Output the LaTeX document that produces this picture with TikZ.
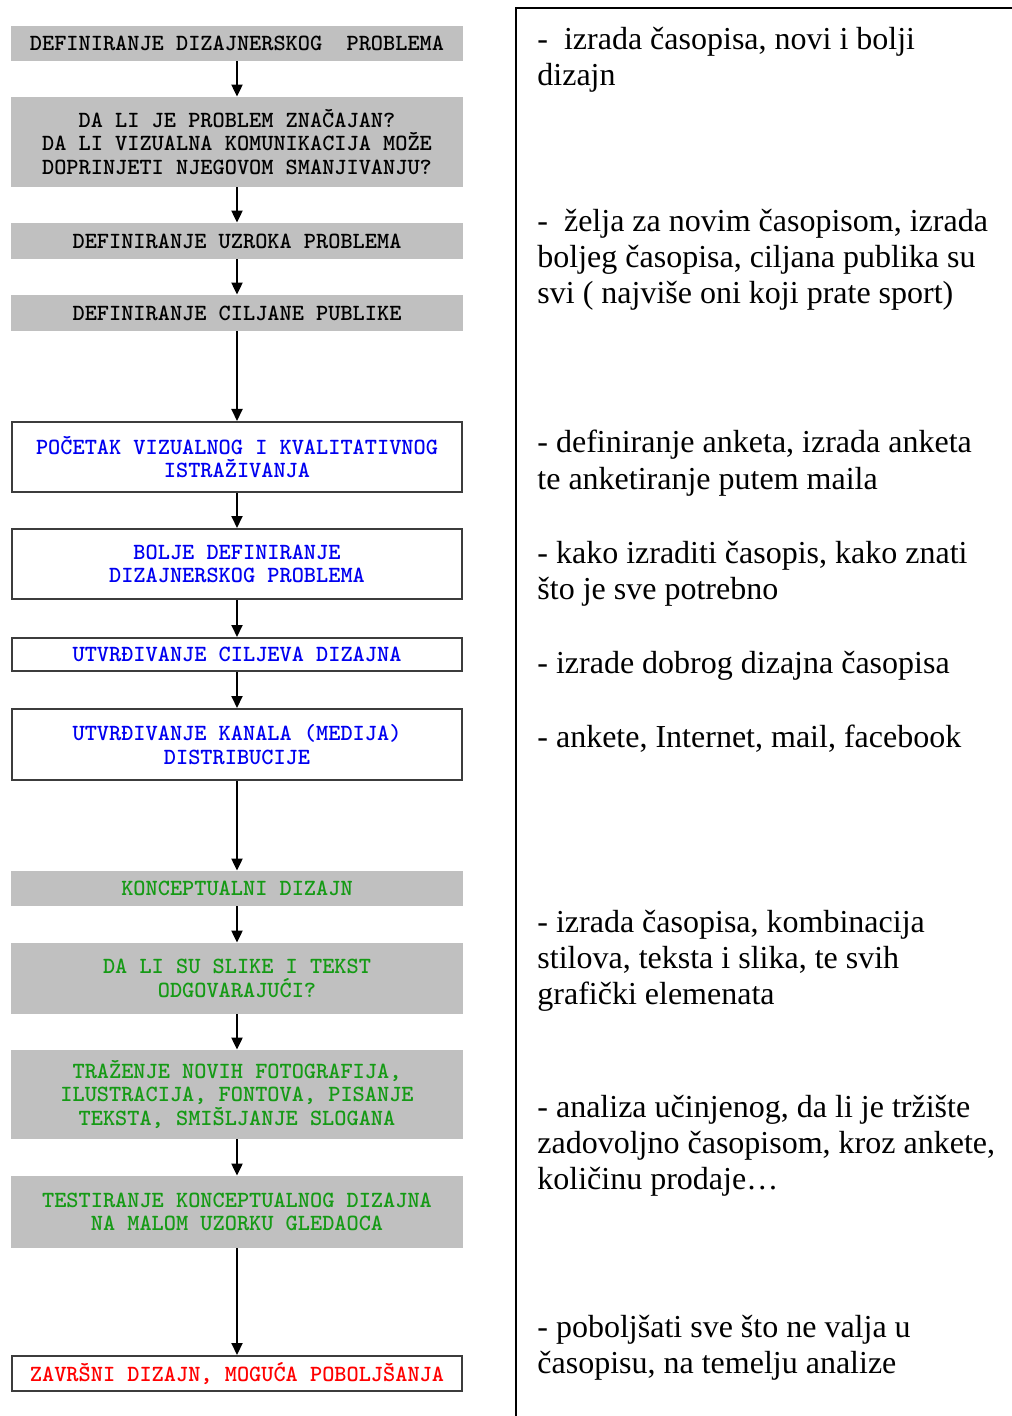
\documentclass[tikz,border=0pt]{standalone}
\usepackage{fontspec}
\setmainfont{Liberation Serif}
\usetikzlibrary{arrows.meta}
\definecolor{boxgrey}{HTML}{C0C0C0}
\definecolor{boxline}{HTML}{3C3C3C}
\definecolor{stepblue}{HTML}{0000F0}
\definecolor{stepgreen}{HTML}{159A15}
\definecolor{stepred}{HTML}{FF0000}
\newcommand\boxfont{\ttfamily\bfseries\fontsize{11.6}{11.8}\selectfont}
\newcommand\notefont{\fontsize{16}{18}\selectfont}

\begin{document}
\begin{tikzpicture}[x=0.5pt,y=-0.5pt,
    greybox/.style={fill=boxgrey,minimum width=226pt,inner sep=0,align=center,font=\boxfont},
    whitebox/.style={draw=boxline,line width=1pt,minimum width=225pt,inner sep=0,align=center,font=\boxfont},
    note/.style={anchor=base west,inner sep=0,align=left,font=\notefont},
    arr/.style={-{Triangle[width=5.5pt,length=6pt]},line width=1pt}]
\useasboundingbox (0,0) rectangle (1011,1416);
\path
      (237,  43.5) node [greybox,minimum height=17.5pt] (define)   {DEFINIRANJE DIZAJNERSKOG\ \ PROBLEMA}
      (237, 142  ) node [greybox,minimum height=45pt]   (signif)   {DA LI JE PROBLEM ZNAČAJAN?\\DA LI VIZUALNA KOMUNIKACIJA MOŽE\\DOPRINJETI NJEGOVOM SMANJIVANJU?}
      (237, 241  ) node [greybox,minimum height=18pt]   (cause)    {DEFINIRANJE UZROKA PROBLEMA}
      (237, 313  ) node [greybox,minimum height=18pt]   (audience) {DEFINIRANJE CILJANE PUBLIKE}
      (237, 457  ) node [whitebox,minimum height=35pt,text=stepblue]  (research) {POČETAK VIZUALNOG I KVALITATIVNOG\\ISTRAŽIVANJA}
      (237, 564  ) node [whitebox,minimum height=35pt,text=stepblue]  (redefine) {BOLJE DEFINIRANJE\\DIZAJNERSKOG PROBLEMA}
      (237, 654.5) node [whitebox,minimum height=16.5pt,text=stepblue] (goals)   {UTVRĐIVANJE CILJEVA DIZAJNA}
      (237, 744.5) node [whitebox,minimum height=35.5pt,text=stepblue] (channels) {UTVRĐIVANJE KANALA (MEDIJA)\\DISTRIBUCIJE}
      (237, 888.5) node [greybox,minimum height=17.5pt,text=stepgreen] (concept) {KONCEPTUALNI DIZAJN}
      (237, 978.5) node [greybox,minimum height=35.5pt,text=stepgreen] (suitable) {DA LI SU SLIKE I TEKST\\ODGOVARAJUĆI?}
      (237,1094.5) node [greybox,minimum height=44.5pt,text=stepgreen] (search)  {TRAŽENJE NOVIH FOTOGRAFIJA,\\ILUSTRACIJA, FONTOVA, PISANJE\\TEKSTA, SMIŠLJANJE SLOGANA}
      (237,1212  ) node [greybox,minimum height=36pt,text=stepgreen]   (testing) {TESTIRANJE KONCEPTUALNOG DIZAJNA\\NA MALOM UZORKU GLEDAOCA}
      (237,1373.5) node [whitebox,minimum height=17.5pt,text=stepred]  (final)   {ZAVRŠNI DIZAJN, MOGUĆA POBOLJŠANJA};
\foreach \from/\to in {define/signif,signif/cause,cause/audience,audience/research,
    research/redefine,redefine/goals,goals/channels,channels/concept,
    concept/suitable,suitable/search,search/testing,testing/final}
  \draw[arr] (\from) -- (\to);
\draw[line width=1pt] (516,1420) |- (1015,8);
\path
      (537,  86) node [note] (dzn1) {-\ \ izrada časopisa, novi i bolji\\dizajn}
      (537, 304) node [note] (dzn2) {-\ \ želja za novim časopisom, izrada\\boljeg časopisa, ciljana publika su\\svi ( najviše oni koji prate sport)}
      (537, 489) node [note] (dzn3) {- definiranje anketa, izrada anketa\\te anketiranje putem maila}
      (537, 599) node [note] (dzn4) {- kako izraditi časopis, kako znati\\što je sve potrebno}
      (537, 673) node [note] (dzn5) {- izrade dobrog dizajna časopisa}
      (537, 747) node [note] (dzn6) {- ankete, Internet, mail, facebook}
      (537,1004) node [note] (dzn7) {- izrada časopisa, kombinacija\\stilova, teksta i slika, te svih\\grafički elemenata}
      (537,1189) node [note] (dzn8) {- analiza učinjenog, da li je tržište\\zadovoljno časopisom, kroz ankete,\\količinu prodaje…}
      (537,1373) node [note] (dzn9) {- poboljšati sve što ne valja u\\časopisu, na temelju analize};
\end{tikzpicture}
\end{document}
